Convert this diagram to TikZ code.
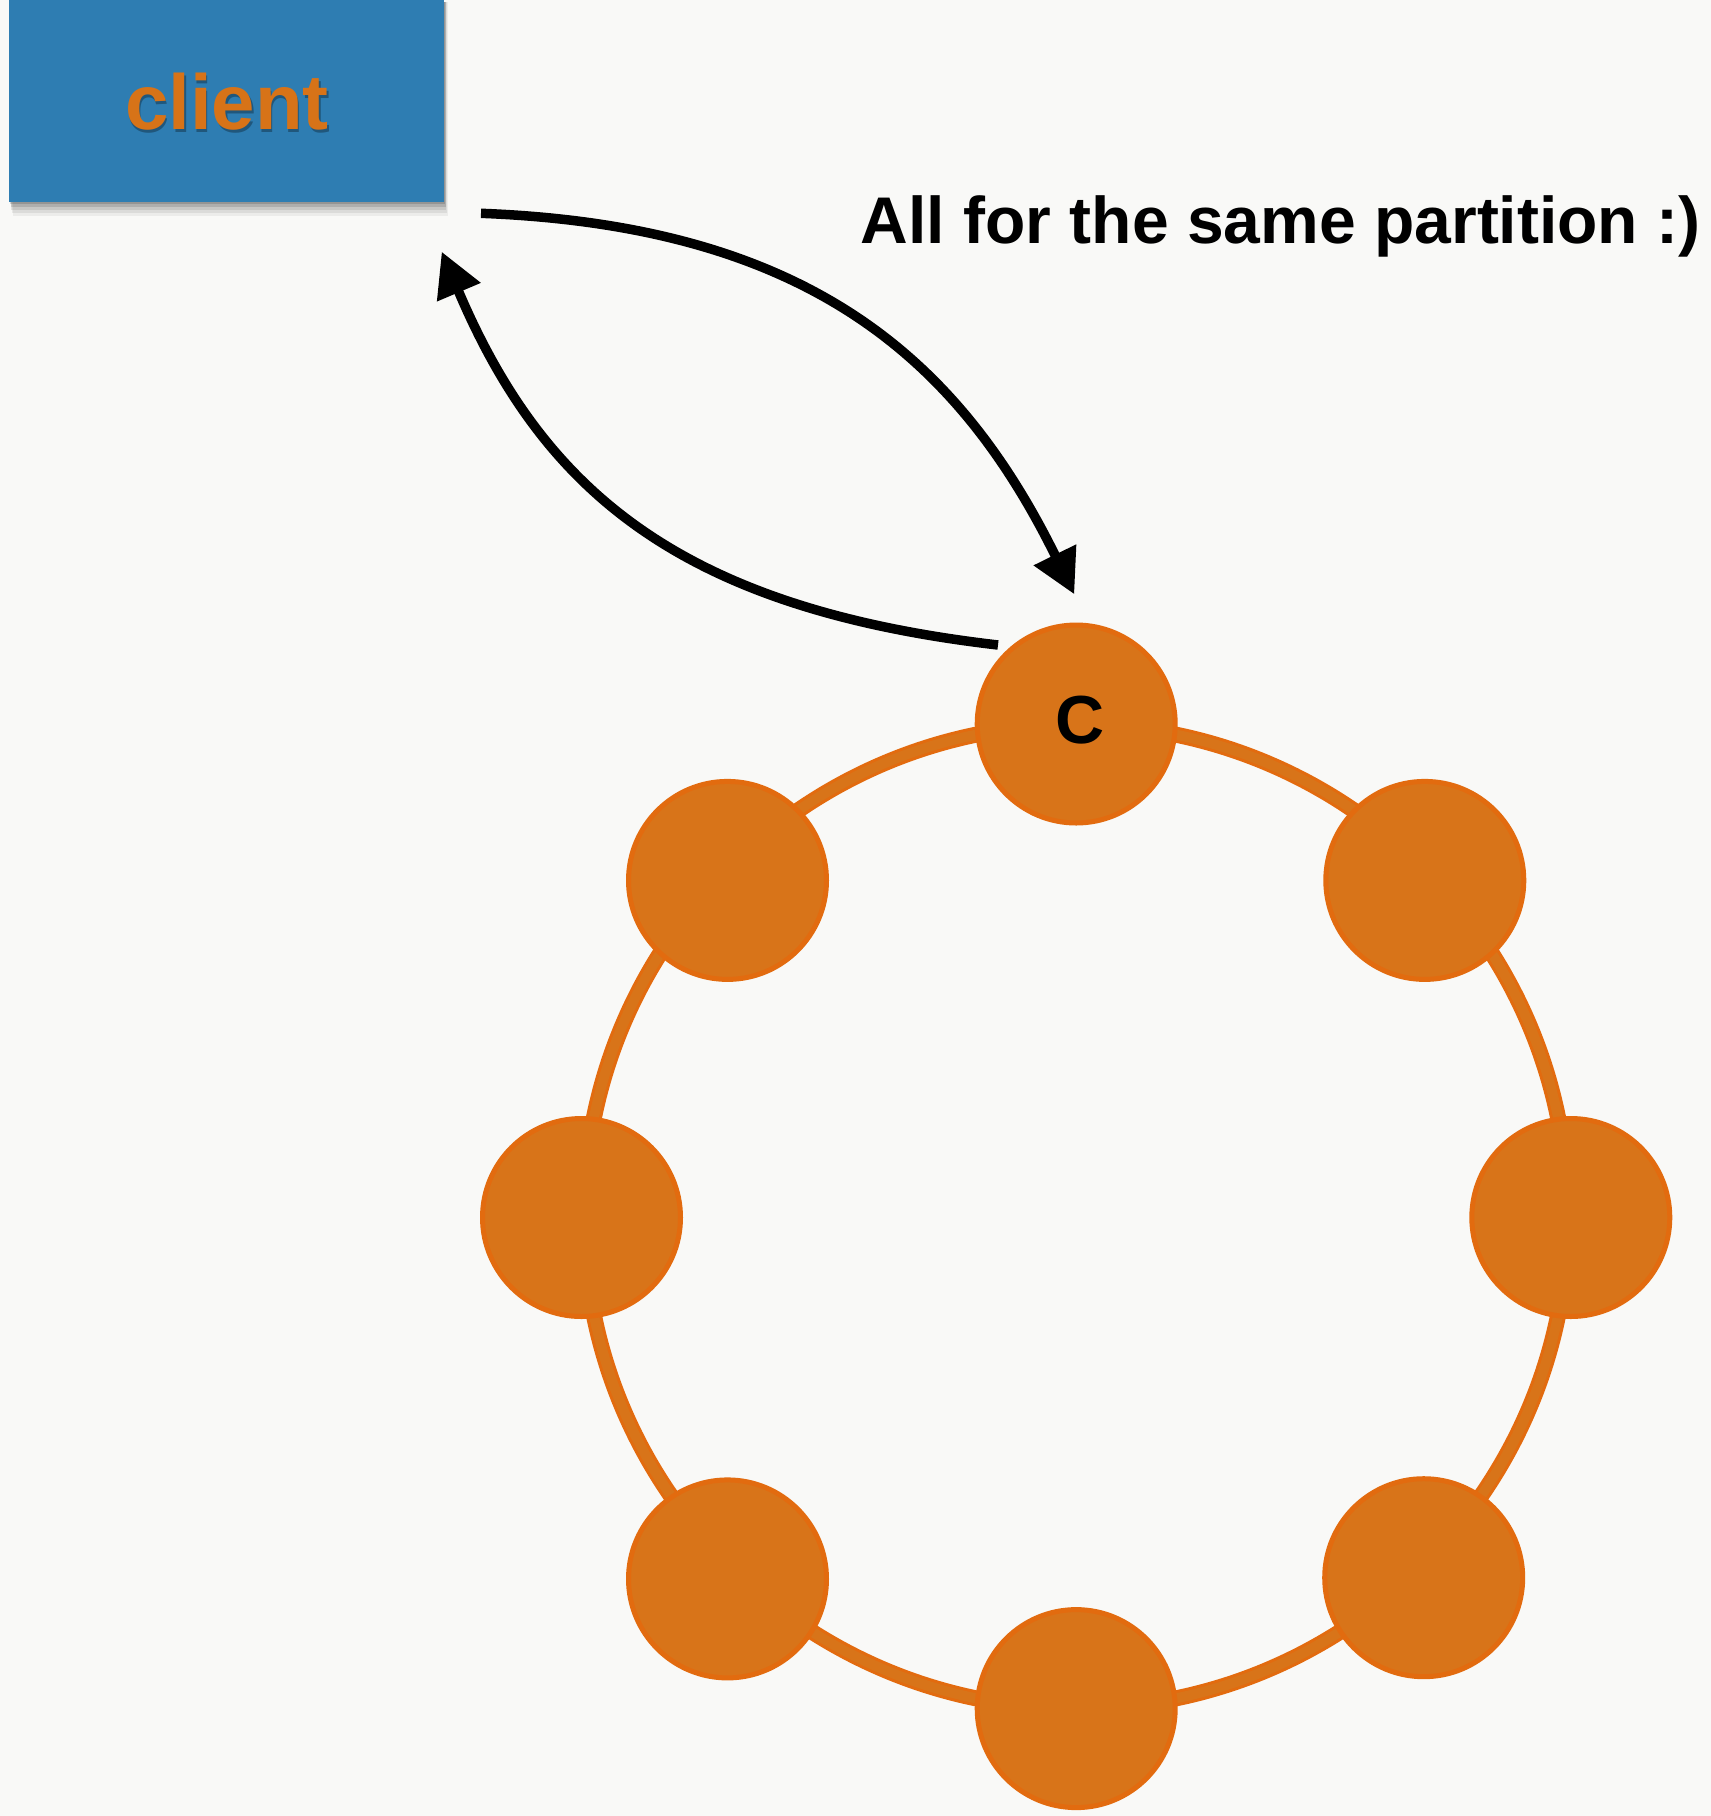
\documentclass[tikz,border=0pt]{standalone}
\usepackage{fontspec}
\setmainfont{Liberation Sans}
\usetikzlibrary{arrows.meta}

\definecolor{paper}{HTML}{F9F9F7}
\definecolor{boxblue}{HTML}{2E7DB2}
\definecolor{nodeorange}{HTML}{D87419}
\definecolor{rimorange}{HTML}{E26B0F}
\definecolor{labelorange}{HTML}{D77318}

\tikzset{
  ringnode/.style={circle, minimum size=198pt, inner sep=0pt,
    fill=nodeorange, draw=rimorange, line width=5pt},
  flow/.style={line width=9.5pt, draw=black,
    -{Triangle[length=44pt,width=45pt]}},
  heading/.style={font=\fontsize{66}{70}\selectfont\bfseries, inner sep=0pt},
}

\begin{document}
\begin{tikzpicture}[x=1pt,y=1pt]
  % page and background
  \fill[paper] (0,0) rectangle (1711,-1816);
  \useasboundingbox (0,0) rectangle (1711,-1816);

  % soft shadow under the client box
  \foreach \d/\o in {14/0.05,11/0.07,8/0.09,5/0.12,2/0.15}{
    \fill[black,opacity=\o] (9+0.3*\d,-2) rectangle (444+0.3*\d,-202-\d);
  }
  % client box
  \node[fill=boxblue, minimum width=435pt, minimum height=202pt, inner sep=0pt,
        anchor=north west] (client) at (9,0) {};
  \node[font=\fontsize{78}{80}\selectfont\bfseries, text=black, opacity=0.3]
    at (228.5,-105) {client};
  \node[font=\fontsize{78}{80}\selectfont\bfseries, text=labelorange]
    (clientlabel) at (227,-102) {client};

  % the ring
  \coordinate (ringc) at (1076,-1216.5);
  \draw[rimorange, line width=16pt] (ringc) circle[radius=492];
  \draw[nodeorange, line width=10pt] (ringc) circle[radius=492];

  % replicas on the ring
  \node[ringnode] (nC)  at (1076.2,-724)   {};
  \node[ringnode] (nTR) at (1424.8,-880.4) {};
  \node[ringnode] (nR)  at (1570.8,-1217.5){};
  \node[ringnode] (nBR) at (1423.7,-1577.7){};
  \node[ringnode] (nB)  at (1076.2,-1708.6){};
  \node[ringnode] (nBL) at (727.5,-1578.9) {};
  \node[ringnode] (nL)  at (581.5,-1217.5) {};
  \node[ringnode] (nTL) at (727.5,-880.4)  {};
  \node[font=\fontsize{68}{70}\selectfont\bfseries] at (1079.6,-720) {C};

  % request and response
  \coordinate (reqstart) at (481,-213.3);
  \coordinate (reqend)   at (1074.3,-594.3);
  \coordinate (repstart) at (998,-645);
  \coordinate (repend)   at (441.7,-251.7);
  \draw[flow] (reqstart) .. controls (800.8,-225.5) and (955.1,-352) .. (reqend);
  \draw[flow] (repstart) .. controls (680.1,-608.2) and (543.3,-491) .. (repend);

  % caption
  \node[heading, anchor=base west] (caption) at (860.7,-243)
    {All for the same partition :)};
\end{tikzpicture}
\end{document}
